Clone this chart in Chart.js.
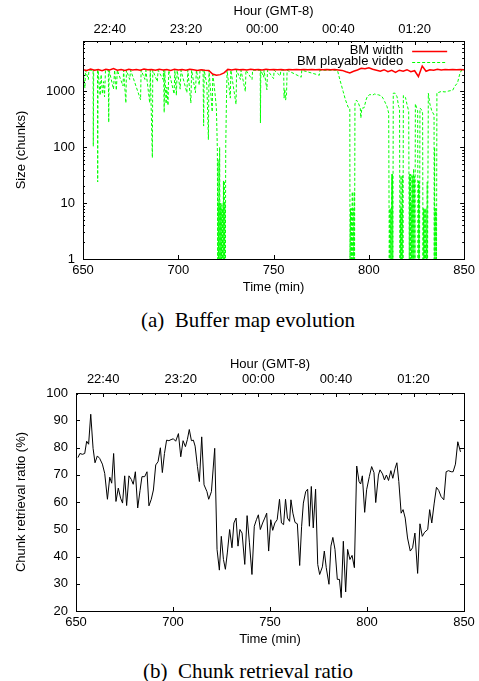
<!DOCTYPE html>
<html>
<head>
<meta charset="utf-8">
<script src="https://cdn.jsdelivr.net/npm/chart.js@4.4.1/dist/chart.umd.min.js"></script>
<style>
  body { margin: 0; background: #fff; width: 479px; height: 681px; position: relative; overflow: hidden; }
  canvas { position: absolute; left: 0; }
  .cap { position: absolute; left: 17px; width: 462px; text-align: center; line-height: 24px;
         font-family: "Liberation Serif", "Times New Roman", serif; font-size: 21px; color: #000; }
</style>
</head>
<body>
<canvas id="bmChart" width="479" height="300" style="top:0"></canvas>
<div class="cap" style="top:308px">(a)&ensp;Buffer map evolution</div>
<canvas id="ratioChart" width="479" height="310" style="top:340px"></canvas>
<div class="cap" style="top:659px">(b)&ensp;Chunk retrieval ratio</div>
<script>
// axis ticks
const timeTicks = [650, 700, 750, 800, 850];
const hourTicks = [664, 704, 744, 784, 824];
const hourLabels = ['22:40', '23:20', '00:00', '00:40', '01:20'];
const sizeTicks = [1, 10, 100, 1000];
const ratioTicks = [20, 30, 40, 50, 60, 70, 80, 90, 100];

// (a) BM width
const widthTime = [
  650, 652, 654, 656, 658, 660, 662, 664, 666, 668,
  670, 672, 674, 676, 678, 680, 682, 684, 686, 688,
  690, 692, 694, 696, 698, 700, 702, 704, 706, 708,
  710, 712, 714, 716, 718, 720, 722, 724, 726, 728,
  730, 732, 734, 736, 738, 740, 742, 744, 746, 748,
  750, 752, 754, 756, 758, 760, 762, 764, 766, 768,
  770, 772, 774, 776, 778, 780, 782, 784, 786, 788,
  790, 792, 794, 796, 798, 800, 802, 804, 806, 808,
  810, 812, 814, 816, 818, 820, 822, 824, 826, 828,
  830, 832, 834, 836, 838, 840, 842, 844, 846, 848,
  850];
const widthSize = [
  2450, 2380, 2520, 2400, 2470, 2350, 2500, 2420, 2560, 2400,
  2460, 2380, 2500, 2430, 2470, 2390, 2520, 2440, 2480, 2400,
  2500, 2430, 2460, 2380, 2490, 2420, 2470, 2400, 2500, 2440,
  2380, 2450, 2400, 2380, 2050, 1950, 2000, 2150, 2480, 2430,
  2500, 2440, 2470, 2420, 2490, 2450, 2470, 2430, 2490, 2440,
  2470, 2450, 2480, 2430, 2470, 2450, 2460, 2440, 2480, 2450,
  2470, 2440, 2460, 2450, 2470, 2450, 2460, 2420, 2380, 2250,
  2150, 2300, 2420, 2600, 2550, 2650, 2500, 2400, 2300, 2450,
  2250, 2380, 2200, 2400, 2300, 2450, 2250, 2350, 1850, 2850,
  2300, 2450, 2400, 2500, 2430, 2470, 2440, 2480, 2450, 2460,
  2450];

// (a) BM playable video
const playTime = [
  650, 651, 651.3, 652.8, 653.1, 655.3, 655.4, 655.6, 657.6, 657.7,
  657.9, 659, 659.5, 660.2, 660.8, 661.3, 661.8, 663.3, 663.5, 663.7,
  666, 666.6, 667.5, 668, 671, 671.3, 672.5, 672.8, 674.5, 675,
  680.2, 680.5, 682.5, 683, 685, 685.3, 686.4, 686.6, 689, 689.4,
  692, 692.3, 692.6, 692.9, 693.6, 694, 694.6, 695, 697.8, 698.2,
  699, 699.4, 701, 701.4, 704.5, 705, 706.6, 707, 709, 709.5,
  711, 711.4, 713, 713.3, 713.6, 715, 715.8, 716.1, 717.8, 718.1,
  718.6, 719.3, 720, 720.5, 720.7, 720.9, 721.1, 721.3, 721.5, 721.7,
  721.9, 722.1, 722.3, 722.5, 722.7, 722.9, 723.1, 723.3, 723.5, 723.7,
  723.9, 724.1, 724.3, 724.5, 724.7, 724.9, 725.3, 725.6, 727.3, 727.6,
  730.3, 730.6, 732.6, 732.9, 735.2, 735.5, 738.7, 739, 743, 743.1,
  743.3, 744.8, 745, 746.5, 746.8, 750, 750.3, 753.5, 753.8, 755.3,
  755.5, 755.9, 756.3, 756.8, 757.1, 764.5, 764.8, 774, 774.3, 783.5,
  784.8, 786.5, 787.7, 789.1, 790, 790.1, 790.4, 790.6, 790.8, 791,
  791.3, 791.5, 791.8, 792, 792.3, 792.5, 792.7, 793.5, 794.5, 795.5,
  795.8, 796.3, 797.5, 798.5, 799.2, 800.5, 802, 803, 804, 805,
  806.6, 807.5, 808.3, 809.5, 810.4, 810.7, 811, 811.2, 811.5, 811.7,
  812, 812.2, 812.4, 812.6, 812.8, 813.8, 814.8, 815.6, 816.1, 816.3,
  816.5, 816.7, 816.9, 817.1, 817.3, 817.5, 817.7, 817.9, 818.1, 819.2,
  820, 820.9, 821.2, 821.4, 821.6, 821.8, 822, 822.2, 822.4, 822.6,
  822.8, 823, 823.3, 823.5, 823.7, 824, 824.2, 824.4, 825, 825.6,
  825.8, 826, 826.2, 826.4, 826.6, 826.8, 827.5, 828.2, 828.4, 828.6,
  828.8, 829, 829.2, 829.5, 829.7, 830, 830.3, 830.6, 830.8, 831.2,
  832, 833, 834.2, 834.3, 834.5, 834.7, 834.9, 835.1, 835.3, 835.5,
  835.7, 836.6, 838, 840, 842, 844, 845, 846.5, 847.8, 848.8,
  850];
const playSize = [
  2400, 1150, 2400, 1640, 2400, 2400, 104, 2400, 2400, 24,
  2400, 850, 2000, 900, 1500, 800, 2400, 2400, 280, 2400,
  1100, 2400, 1050, 2400, 1250, 2400, 620, 2400, 1640, 2400,
  710, 2400, 1640, 2400, 620, 2400, 65, 2400, 1500, 2400,
  1640, 2400, 420, 2400, 600, 1200, 560, 2400, 900, 2400,
  850, 2400, 1100, 2400, 950, 2400, 620, 2400, 950, 2400,
  1300, 2400, 2400, 240, 2400, 1300, 137, 2400, 430, 2000,
  1500, 900, 500, 90, 1, 60, 1, 10, 1, 100,
  1, 10, 1, 8, 1, 10, 1, 8, 1, 25,
  1, 25, 1, 10, 1, 100, 800, 2400, 760, 2400,
  590, 2400, 1640, 2400, 1000, 2400, 1640, 2400, 2400, 272,
  2400, 1800, 2400, 1070, 2400, 1700, 2400, 1900, 2400, 2400,
  760, 1100, 700, 900, 2400, 1800, 2400, 1950, 2400, 2400,
  1620, 1000, 710, 525, 500, 1, 8, 1, 8, 1,
  16, 1, 8, 1, 16, 1, 600, 700, 620, 500,
  335, 500, 510, 700, 815, 880, 860, 900, 880, 870,
  830, 750, 660, 540, 410, 1, 8, 1, 8, 1,
  33, 1, 33, 1, 930, 930, 800, 540, 500, 1,
  8, 1, 31, 1, 8, 1, 31, 1, 850, 780,
  590, 440, 1, 33, 1, 33, 1, 10, 1, 33,
  1, 30, 1, 41, 1, 30, 1, 600, 520, 450,
  1, 25, 1, 24, 1, 500, 480, 410, 1, 8,
  1, 8, 1, 8, 1, 8, 1, 24, 1, 930,
  600, 450, 380, 1, 100, 1, 8, 1, 8, 1,
  960, 960, 1000, 980, 1020, 1050, 1230, 1420, 2120, 2450,
  2400];

// (b) chunk retrieval ratio
const ratioTime = [
  651, 652, 653.3, 654.5, 655.5, 656.5, 657.6, 658.8, 659.8, 661,
  662.2, 663.6, 664.8, 666.2, 667.4, 668.4, 669.4, 670.6, 671.8, 673,
  674, 675.1, 676.1, 677.3, 678.5, 679.5, 680.6, 681.8, 683, 684,
  685.4, 686.6, 687.6, 688.8, 689.9, 691.1, 692.3, 693.5, 694.5, 695.6,
  696.7, 697.9, 699, 700.2, 701.4, 702.8, 704, 705.2, 706.4, 707.4,
  708.4, 709.5, 710.5, 711.4, 712.6, 713.6, 714.8, 716, 717.5, 718.4,
  719.8, 721.5, 722.7, 723.9, 724.9, 726, 727, 728, 729.2, 730.4,
  731.4, 732.5, 733.5, 734.5, 735.6, 737, 738.2, 739.4, 740.7, 741.9,
  743, 744, 745, 746.2, 747.3, 748.3, 749.3, 750.4, 751.4, 752.5,
  753.7, 754.9, 755.9, 757, 758, 759, 760.1, 760.8, 761.8, 762.9,
  764.1, 765.3, 766.3, 767.2, 768.4, 769.4, 770.3, 771.3, 772.3, 773.5,
  774.6, 775.6, 777, 778, 779, 780.4, 781.4, 782.4, 783.5, 784.7,
  785.8, 786.7, 787.8, 789, 790, 791.2, 792.3, 793.5, 794.7, 795.9,
  796.7, 797.6, 798.8, 799.8, 801.2, 802.4, 803.6, 804.5, 805.9, 806.7,
  808, 809, 810, 811.1, 812.3, 813.3, 814.5, 815.4, 816.4, 817.6,
  818.6, 819.7, 820.9, 822.3, 823.5, 824.7, 826.1, 827.3, 828.5, 829.7,
  831.3, 832.3, 833.4, 834.6, 835.8, 837, 838.2, 839.6, 840.8, 842,
  843.4, 844.4, 845.6, 846.8, 848.2];
const ratioValue = [
  76.3, 77.8, 77.5, 77.8, 82.3, 81.2, 92.2, 79.7, 74.4, 76.9,
  76, 73.9, 70.5, 61, 69.1, 66.9, 77.8, 60.2, 65.1, 61.4,
  59.6, 69.6, 58.7, 69.6, 68.3, 66.5, 71.1, 57.8, 64.2, 69.3,
  69.3, 71.1, 58.6, 61, 64.4, 73.6, 74.8, 79.9, 70.8, 77.8,
  82.7, 82.5, 82.9, 83.2, 82.3, 85.1, 76.6, 82.5, 80.3, 82.9,
  86.6, 82.5, 82.7, 80.5, 73, 67.5, 83.9, 66.3, 63.8, 61,
  63.8, 79.7, 42.6, 35, 47.4, 38.9, 35.3, 41.3, 49.9, 43.2,
  52.3, 54.1, 43.8, 49.9, 48.6, 37.1, 55, 45, 33.4, 51.1,
  53.5, 55.3, 49.9, 52.3, 54.1, 55.9, 42, 53.5, 49.6, 52.3,
  53.5, 61, 52.3, 51.7, 61, 54.1, 52.9, 60.8, 55.9, 52.5,
  52, 36.7, 51.1, 59.6, 63.8, 64.7, 51.1, 65.7, 50.5, 64.7,
  37.1, 33.4, 36.2, 42, 35.9, 29.8, 43.8, 47, 42.6, 31.6,
  31.6, 24.9, 45.6, 27, 42.6, 38.9, 40.4, 35.9, 73.2, 67.5,
  66.6, 69.6, 56.2, 64.5, 69.3, 73, 70.8, 59.8, 69.9, 71.8,
  70.3, 68.1, 69.9, 67.9, 71.5, 68.7, 72.4, 74.4, 67.5, 55.9,
  57.2, 54.1, 46.8, 42, 43.2, 48.6, 33.8, 52, 47.4, 48.9,
  49.9, 57.2, 52.3, 59.3, 65.4, 64.2, 62, 60.8, 71.1, 71.5,
  71.1, 71.1, 73.9, 82.1, 78.4];

Chart.defaults.font.family = '"Liberation Sans", Arial, Helvetica, sans-serif';
Chart.defaults.font.size = 13;
Chart.defaults.color = '#000';

const pts = (xs, ys) => xs.map((x, i) => ({ x: x, y: ys[i] }));

// gnuplot style box with inward ticks
const framePlugin = {
  id: 'frame',
  afterDatasetsDraw(chart, args, opts) {
    const { ctx, chartArea: a, scales } = chart;
    ctx.save();
    ctx.strokeStyle = '#000';
    ctx.lineWidth = 1;
    const line = (x1, y1, x2, y2) => { ctx.beginPath(); ctx.moveTo(x1, y1); ctx.lineTo(x2, y2); ctx.stroke(); };
    scales.x.ticks.forEach(t => {
      const px = Math.round(scales.x.getPixelForValue(t.value)) + 0.5;
      line(px, a.bottom, px, a.bottom - 4);
    });
    const x2 = scales.x2;
    const step = (hourTicks[1] - hourTicks[0]) / 6;
    for (let k = -6; k < 60; k++) {
      const v = hourTicks[0] + k * step;
      if (v < x2.min || v > x2.max) continue;
      const px = Math.round(x2.getPixelForValue(v)) + 0.5;
      line(px, a.top, px, a.top + (k % 6 === 0 ? 4 : 2));
    }
    scales.y.ticks.forEach(t => {
      const major = opts.majors.includes(t.value);
      const len = major ? 4 : 2;
      const py = Math.round(scales.y.getPixelForValue(t.value)) + 0.5;
      line(a.left, py, a.left + len, py);
      line(a.right, py, a.right - len, py);
    });
    ctx.strokeRect(Math.round(a.left) + 0.5, Math.round(a.top) + 0.5,
      Math.round(a.right - a.left), Math.round(a.bottom - a.top));
    ctx.restore();
  }
};

// gnuplot style key, top right inside the plot
const keyPlugin = {
  id: 'key',
  afterDraw(chart) {
    const { ctx, chartArea: a } = chart;
    ctx.save();
    ctx.font = '13px "Liberation Sans", Arial, sans-serif';
    ctx.textAlign = 'right';
    ctx.textBaseline = 'middle';
    chart.data.datasets.forEach((ds, i) => {
      const y = a.top + 9.5 + i * 11;
      ctx.fillStyle = '#000';
      ctx.fillText(ds.label, a.right - 61, y);
      ctx.strokeStyle = ds.borderColor;
      ctx.lineWidth = ds.borderWidth;
      ctx.setLineDash(ds.borderDash || []);
      ctx.beginPath();
      ctx.moveTo(a.right - 52, Math.round(y) + 0.5);
      ctx.lineTo(a.right - 17, Math.round(y) + 0.5);
      ctx.stroke();
    });
    ctx.restore();
  }
};

const noGrid = { display: false, drawTicks: false };
const noBorder = { display: false };

function timeAxes(bottomH, topH, topPad, titlePadBottom, tickPadBottom, tickPadTop) {
  return {
    x: {
      type: 'linear', position: 'bottom', min: 650, max: 850,
      grid: noGrid, border: noBorder,
      afterBuildTicks: s => { s.ticks = timeTicks.map(v => ({ value: v })); },
      ticks: { padding: tickPadBottom, maxRotation: 0, autoSkip: false },
      title: { display: true, text: 'Time (min)', padding: { top: 0, bottom: titlePadBottom } },
      afterFit: s => { s.height = bottomH; }
    },
    x2: {
      type: 'linear', position: 'top', min: 650, max: 850,
      grid: noGrid, border: noBorder,
      afterBuildTicks: s => { s.ticks = hourTicks.map(v => ({ value: v })); },
      ticks: { padding: tickPadTop, maxRotation: 0, autoSkip: false,
               callback: (v, i) => hourLabels[i] },
      title: { display: true, text: 'Hour (GMT-8)', padding: { top: topPad, bottom: 0 } },
      afterFit: s => { s.height = topH; }
    }
  };
}

new Chart(document.getElementById('bmChart').getContext('2d'), {
  type: 'line',
  data: {
    datasets: [
      {
        label: 'BM width',
        data: pts(widthTime, widthSize),
        borderColor: '#ff0000',
        borderWidth: 1.5,
        pointRadius: 0,
        tension: 0,
        order: 1
      },
      {
        label: 'BM playable video',
        data: pts(playTime, playSize),
        borderColor: '#00ff00',
        borderWidth: 1,
        borderDash: [3, 2],
        pointRadius: 0,
        tension: 0,
        order: 2
      }
    ]
  },
  options: {
    responsive: false,
    animation: false,
    events: [],
    layout: { padding: { left: 0, right: 14, top: 0, bottom: 0 } },
    plugins: { legend: { display: false }, tooltip: { enabled: false }, frame: { majors: sizeTicks } },
    scales: Object.assign(timeAxes(41, 41, 4, 5, 4, 4), {
      y: {
        type: 'logarithmic', min: 1, max: 8000,
        grid: noGrid, border: noBorder,
        ticks: { padding: 8, autoSkip: false,
                 callback: v => sizeTicks.includes(v) ? String(v) : '' },
        title: { display: true, text: 'Size (chunks)', padding: { top: 14, bottom: 0 } },
        afterFit: s => { s.width = 83; }
      }
    })
  },
  plugins: [framePlugin, keyPlugin]
});

new Chart(document.getElementById('ratioChart').getContext('2d'), {
  type: 'line',
  data: {
    datasets: [{
      label: 'Chunk retrieval ratio',
      data: pts(ratioTime, ratioValue),
      borderColor: '#000',
      borderWidth: 1,
      pointRadius: 0,
      tension: 0
    }]
  },
  options: {
    responsive: false,
    animation: false,
    events: [],
    layout: { padding: { left: 0, right: 15, top: 0, bottom: 0 } },
    plugins: { legend: { display: false }, tooltip: { enabled: false }, frame: { majors: ratioTicks } },
    scales: Object.assign(timeAxes(39, 53, 17, 3, 4, 6), {
      y: {
        type: 'linear', min: 20, max: 100,
        grid: noGrid, border: noBorder,
        afterBuildTicks: s => { s.ticks = ratioTicks.map(v => ({ value: v })); },
        ticks: { padding: 8, autoSkip: false },
        title: { display: true, text: 'Chunk retrieval ratio (%)', padding: { top: 14, bottom: 0 } },
        afterFit: s => { s.width = 76; }
      }
    })
  },
  plugins: [framePlugin]
});
</script>
</body>
</html>
